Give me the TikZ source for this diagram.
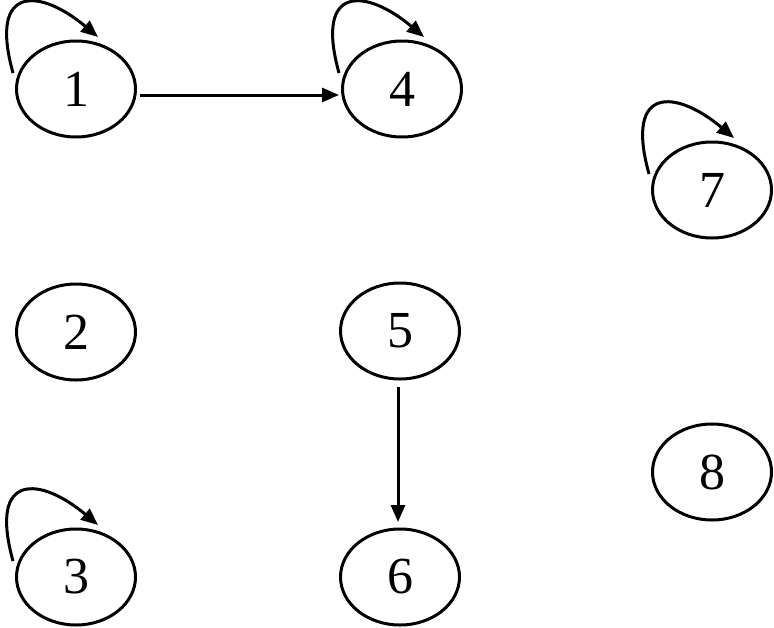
\documentclass[tikz,border=0pt]{standalone}
\usepackage{fontspec}
\setmainfont{Liberation Serif}
\usetikzlibrary{shapes.geometric,arrows.meta,calc}
\tikzset{
  state/.style={ellipse,draw,line width=3pt,minimum width=119pt,minimum height=96pt,inner sep=0pt,font=\fontsize{52}{52}\selectfont},
  arr/.style={line width=3pt,-{Triangle[length=17pt,width=14pt]}},
}
\newcommand{\myloop}[1]{%
  \draw[arr] ($(#1)+(-63,-16)$) .. controls ($(#1)+(-88,-106)$) and ($(#1)+(-35,-100)$) .. ($(#1)+(22,-52)$);}
\begin{document}
\begin{tikzpicture}[x=1pt,y=-1pt]
\useasboundingbox (0,0) rectangle (774,627);
\node[state] (n1) at (76,89) {1};
\node[state] (n4) at (402,89) {4};
\node[state] (n7) at (712,190) {7};
\node[state] (n2) at (76,332) {2};
\node[state] (n5) at (400,331) {5};
\node[state] (n8) at (712,472) {8};
\node[state] (n3) at (76,577) {3};
\node[state] (n6) at (400,577) {6};
\myloop{n1}
\myloop{n4}
\myloop{n7}
\myloop{n3}
\draw[arr] ($(n1.center)+(64,6)$) -- ($(n4.center)+(-63,6)$);
\draw[arr] ($(n5.center)+(-2,56)$) -- ($(n6.center)+(-2,-55)$);
\end{tikzpicture}
\end{document}
